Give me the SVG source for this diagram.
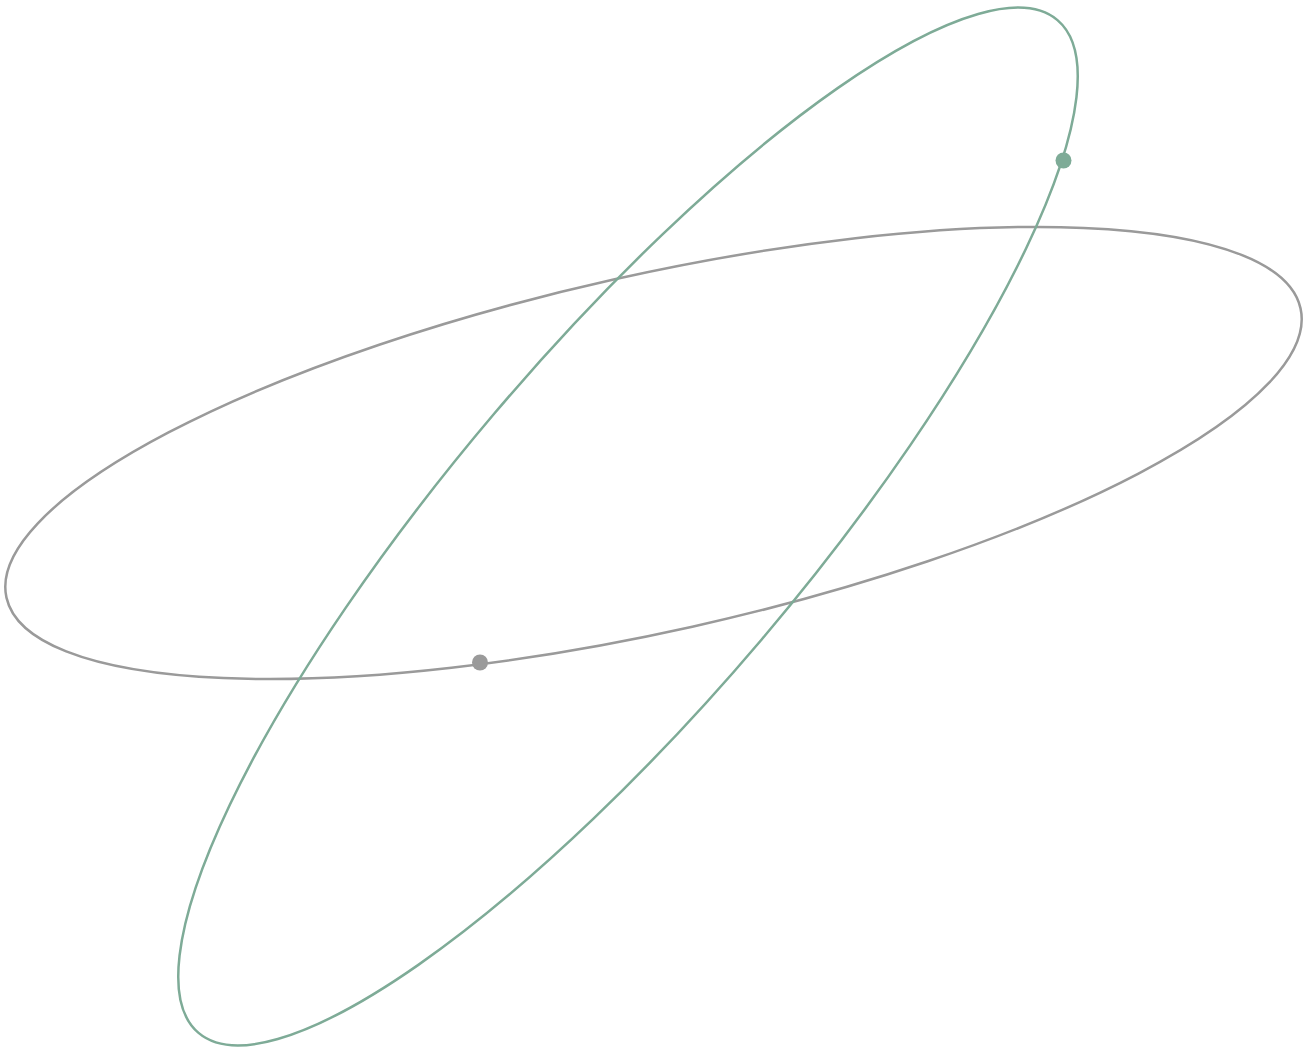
<svg xmlns="http://www.w3.org/2000/svg" width="1313" height="1050" viewBox="0 0 1313 1050">
<style>
.orbit{fill:none;stroke-width:2.5}
.gray{stroke:#9a9a9a}
.green{stroke:#7eab97}
</style>
<rect width="1313" height="1050" fill="#ffffff"/>
<g id="orbit-gray">
<ellipse class="orbit gray" cx="653.5" cy="453" rx="663" ry="178" transform="rotate(-12.6 653.5 453)"/>
<circle cx="480" cy="662.5" r="8" fill="#9a9a9a"/>
</g>
<g id="orbit-green">
<ellipse class="orbit green" cx="628" cy="526.5" rx="664" ry="175" transform="rotate(-49.7 628 526.5)"/>
<circle cx="1063.5" cy="160.5" r="8" fill="#7eab97"/>
</g>
</svg>
